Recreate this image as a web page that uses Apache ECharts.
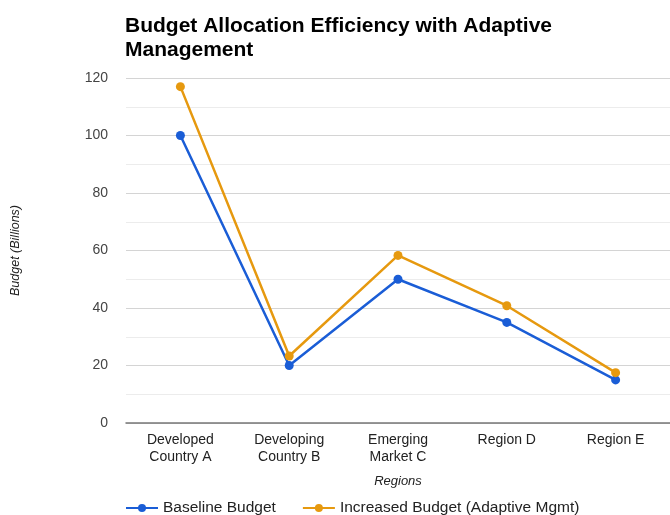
<!DOCTYPE html>
<html>
<head>
<meta charset="utf-8">
<script src="https://cdn.jsdelivr.net/npm/echarts@6/dist/echarts.min.js"></script>
<style>html,body{margin:0;padding:0;background:#fff}#c{width:670px;height:515px}</style>
</head>
<body>
<div id="c"></div>
<script>
var categories = ["Developed\nCountry A", "Developing\nCountry B", "Emerging\nMarket C", "Region D", "Region E"];
var baseline = [100, 20, 50, 35, 15];
var increased = [117, 23.3, 58.3, 40.8, 17.5];
var yTicks = [0, 20, 40, 60, 80, 100, 120];

var chart = echarts.init(document.getElementById('c'));
var font = 'Liberation Sans, Arial, sans-serif';
chart.setOption({
  animation: false,
  textStyle: {fontFamily: font},
  title: {
    text: 'Budget Allocation Efficiency with Adaptive\nManagement',
    left: 120, top: 9,
    textStyle: {fontSize: 21, fontWeight: 'bold', color: '#000', lineHeight: 24, fontFamily: font}
  },
  legend: {
    bottom: -6, left: 120,
    itemWidth: 32, itemHeight: 10, itemGap: 26,
    textStyle: {fontSize: 15.5, color: '#222', fontFamily: font},
    data: ['Baseline Budget', 'Increased Budget (Adaptive Mgmt)']
  },
  grid: {left: 126, right: -6, top: 78, bottom: 92, containLabel: false},
  xAxis: {
    type: 'category', data: categories, boundaryGap: true,
    name: 'Regions', nameLocation: 'middle', nameGap: 52,
    nameTextStyle: {fontStyle: 'italic', fontSize: 13, color: '#222'},
    axisLine: {lineStyle: {color: '#777', width: 1.5}},
    axisTick: {show: false},
    axisLabel: {fontSize: 14, color: '#222', lineHeight: 17, margin: 9, interval: 0}
  },
  yAxis: {
    type: 'value', min: yTicks[0], max: yTicks[yTicks.length - 1], interval: 20,
    name: 'Budget (Billions)', nameLocation: 'middle', nameGap: 104,
    nameTextStyle: {fontStyle: 'italic', fontSize: 12.5, color: '#222'},
    axisLine: {show: false}, axisTick: {show: false},
    axisLabel: {fontSize: 14, color: '#444', margin: 18},
    splitLine: {lineStyle: {color: '#d4d4d4', width: 1}},
    minorTick: {show: false, splitNumber: 2},
    minorSplitLine: {show: true, lineStyle: {color: '#ececec', width: 1}}
  },
  series: [
    {name: 'Baseline Budget', type: 'line', data: baseline, symbol: 'circle', symbolSize: 9,
     itemStyle: {color: '#1a5dd6'}, lineStyle: {width: 2.5, color: '#1a5dd6'}},
    {name: 'Increased Budget (Adaptive Mgmt)', type: 'line', data: increased, symbol: 'circle', symbolSize: 9,
     itemStyle: {color: '#e6990f'}, lineStyle: {width: 2.5, color: '#e6990f'}}
  ]
});
</script>
</body>
</html>
